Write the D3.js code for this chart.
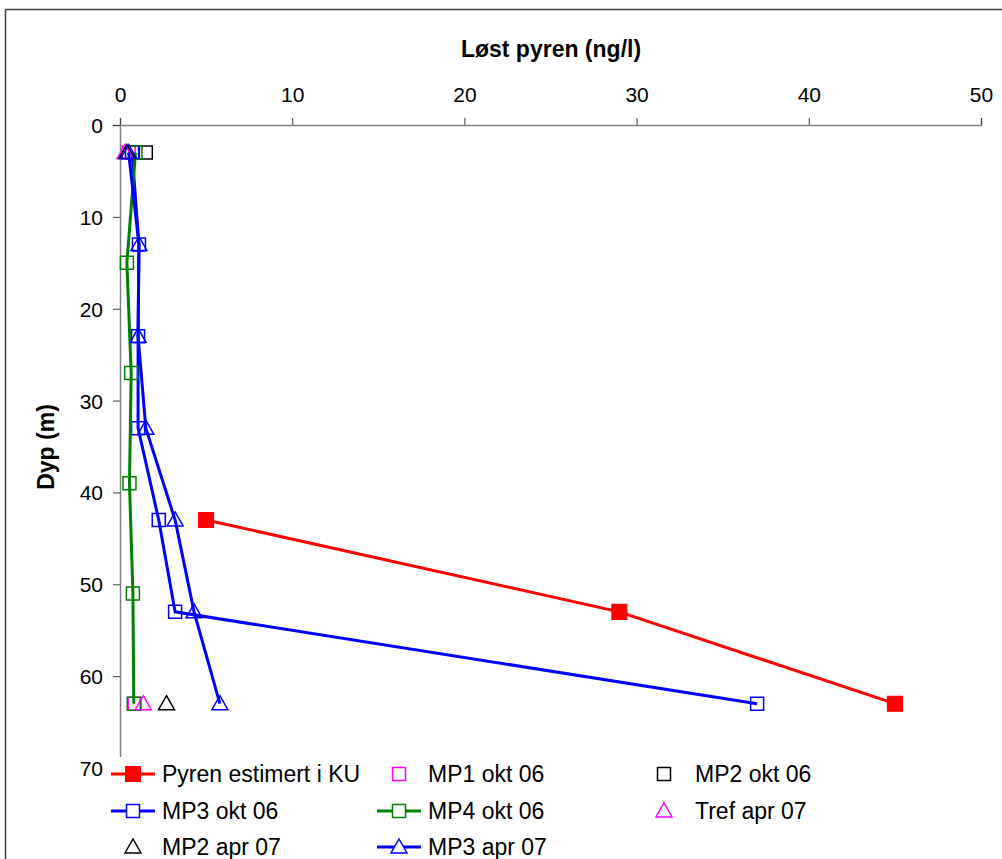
<!DOCTYPE html>
<html>
<head>
<meta charset="utf-8">
<script src="https://cdn.jsdelivr.net/npm/d3@7"></script>
<style>
  body { margin: 0; background: #fff; }
  svg { display: block; font-family: "Liberation Sans", Arial, sans-serif; }
</style>
</head>
<body>
<svg id="plot" width="1002" height="859"></svg>
<script>
// axis ticks
var xTicks = [0, 10, 20, 30, 40, 50];
var yTicks = [0, 10, 20, 30, 40, 50, 60, 70];

// series: depth (m) and dissolved pyrene (ng/l)
var pyrenDepth = [43, 53, 63];
var pyrenValue = [5, 29, 45];
var mp1OktDepth = [3, 63];
var mp1OktValue = [0.5, 0.85];
var mp2OktDepth = [3];
var mp2OktValue = [1.5];
var mp3OktDepth = [3, 13, 23, 33, 43, 53, 63];
var mp3OktValue = [0.7, 1.1, 1.05, 1.05, 2.25, 3.2, 37];
var mp4OktDepth = [3, 15, 27, 39, 51, 63];
var mp4OktValue = [0.9, 0.4, 0.65, 0.55, 0.75, 0.8];
var trefAprDepth = [3, 63];
var trefAprValue = [0.3, 1.35];
var mp2AprDepth = [3, 63];
var mp2AprValue = [0.4, 2.7];
var mp3AprDepth = [3, 13, 23, 33, 43, 53, 63];
var mp3AprValue = [0.5, 1.1, 1.05, 1.5, 3.2, 4.3, 5.8];

function zip(depth, value) {
  return depth.map(function (d, i) { return { depth: d, value: value[i] }; });
}

// drawing order follows the legend order
var series = [
  { name: 'Pyren estimert i KU', data: zip(pyrenDepth, pyrenValue), color: '#ff0000', line: true, marker: 'square', fill: true },
  { name: 'MP1 okt 06', data: zip(mp1OktDepth, mp1OktValue), color: '#ff00ff', line: false, marker: 'square' },
  { name: 'MP2 okt 06', data: zip(mp2OktDepth, mp2OktValue), color: '#000000', line: false, marker: 'square' },
  { name: 'MP3 okt 06', data: zip(mp3OktDepth, mp3OktValue), color: '#0000ff', line: true, marker: 'square' },
  { name: 'MP4 okt 06', data: zip(mp4OktDepth, mp4OktValue), color: '#008000', line: true, marker: 'square' },
  { name: 'Tref apr 07', data: zip(trefAprDepth, trefAprValue), color: '#ff00ff', line: false, marker: 'triangle' },
  { name: 'MP2 apr 07', data: zip(mp2AprDepth, mp2AprValue), color: '#000000', line: false, marker: 'triangle' },
  { name: 'MP3 apr 07', data: zip(mp3AprDepth, mp3AprValue), color: '#0000ff', line: true, marker: 'triangle' }
];

var svg = d3.select('#plot');

// outer chart border
svg.append('rect')
  .attr('x', 5.5).attr('y', 9.5)
  .attr('width', 1010).attr('height', 870)
  .attr('fill', '#fff')
  .attr('stroke', '#404040')
  .attr('stroke-width', 1.5);

var xScale = d3.scaleLinear().domain([0, 50]).range([120, 981]);
var yScale = d3.scaleLinear().domain([0, 70]).range([125, 768]);

var xAxis = d3.axisTop(xScale).tickValues(xTicks).tickSize(7).tickPadding(16);
var yAxis = d3.axisLeft(yScale).tickValues(yTicks).tickSize(7).tickPadding(10);

var gx = svg.append('g')
  .attr('transform', 'translate(0,' + yScale(0) + ')')
  .call(xAxis);
var gy = svg.append('g')
  .attr('transform', 'translate(' + xScale(0) + ',0)')
  .call(yAxis);

[gx, gy].forEach(function (g) {
  g.select('.domain').attr('stroke', '#808080').attr('stroke-width', 1.5);
  g.selectAll('.tick line').attr('stroke', '#404040').attr('stroke-width', 1);
  g.selectAll('.tick text')
    .attr('fill', '#000')
    .style('font-size', '21px')
    .style('font-family', '"Liberation Sans", Arial, sans-serif');
});
gy.selectAll('.tick text').attr('dy', '0.36em');

// axis titles
svg.append('text')
  .attr('x', 551).attr('y', 57)
  .attr('text-anchor', 'middle')
  .style('font-size', '23px').style('font-weight', 'bold')
  .text('Løst pyren (ng/l)');

svg.append('text')
  .attr('transform', 'translate(54,447) rotate(-90)')
  .attr('text-anchor', 'middle')
  .style('font-size', '23px').style('font-weight', 'bold')
  .text('Dyp (m)');

// marker shapes
function markerPath(type) {
  if (type === 'square') {
    var s = 6.5;
    return 'M' + (-s) + ',' + (-s) + 'H' + s + 'V' + s + 'H' + (-s) + 'Z';
  }
  return 'M0,-8L8,6H-8Z';
}

var line = d3.line()
  .x(function (d) { return xScale(d.value); })
  .y(function (d) { return yScale(d.depth); });

var plot = svg.append('g');

series.forEach(function (s) {
  var g = plot.append('g');
  if (s.line) {
    g.append('path')
      .datum(s.data)
      .attr('d', line)
      .attr('fill', 'none')
      .attr('stroke', s.color)
      .attr('stroke-width', 3);
  }
  g.selectAll('path.mark')
    .data(s.data)
    .enter()
    .append('path')
    .attr('class', 'mark')
    .attr('d', markerPath(s.marker))
    .attr('transform', function (d) {
      var sc = s.fill ? 1.15 : 1;
      return 'translate(' + xScale(d.value) + ',' + yScale(d.depth) + ') scale(' + sc + ')';
    })
    .attr('fill', s.fill ? s.color : 'none')
    .attr('stroke', s.color)
    .attr('stroke-width', s.fill ? 1 : 1.5);
});

// legend (drawn over the bottom of the plot, like the original)
var legend = svg.append('g');
legend.append('rect')
  .attr('x', 104).attr('y', 757)
  .attr('width', 897).attr('height', 102)
  .attr('fill', '#fff');

var colX = [133, 399, 664];
var textX = [162, 428, 695];
var rowY = [774, 811, 847];

series.forEach(function (s, i) {
  var col = i % 3, row = Math.floor(i / 3);
  var cx = colX[col], cy = rowY[row];
  var item = legend.append('g');
  if (s.line) {
    item.append('line')
      .attr('x1', cx - 22).attr('x2', cx + 22)
      .attr('y1', cy).attr('y2', cy)
      .attr('stroke', s.color).attr('stroke-width', 3);
  }
  item.append('path')
    .attr('d', markerPath(s.marker))
    .attr('transform', 'translate(' + cx + ',' + cy + ') scale(' + (s.fill ? 1.15 : 1) + ')')
    .attr('fill', s.fill ? s.color : '#fff')
    .attr('stroke', s.color)
    .attr('stroke-width', s.fill ? 1 : 1.5);
  item.append('text')
    .attr('x', textX[col]).attr('y', cy)
    .attr('dy', '0.36em')
    .style('font-size', '23px')
    .text(s.name);
});
</script>
</body>
</html>
